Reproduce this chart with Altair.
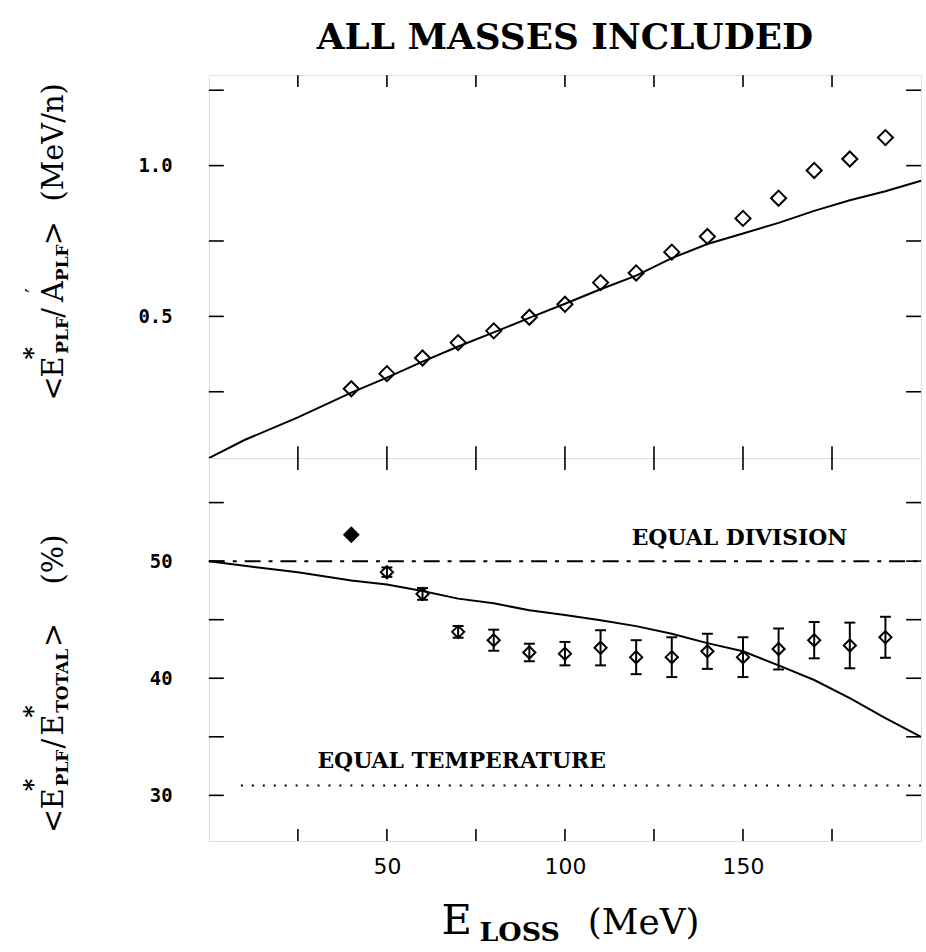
import altair as alt
import pandas as pd

# ---- shared x axis (energy loss, MeV) ----
x_domain = [0, 200]
x_ticks = [25, 50, 75, 100, 125, 150, 175]
x_labels = [50, 100, 150]

# ---- upper panel: excitation energy per nucleon of the PLF ----
e_loss = [40, 50, 60, 70, 80, 90, 100, 110, 120, 130, 140, 150, 160, 170, 180, 190]
exc_per_nucleon = [0.260, 0.310, 0.362, 0.413, 0.452, 0.497, 0.540, 0.612, 0.644, 0.713,
                   0.765, 0.825, 0.892, 0.984, 1.022, 1.093]
model_x = [0, 10, 25, 40, 50, 60, 70, 80, 90, 100, 110, 120, 130, 140, 150, 160, 170, 180, 190, 200]
model_top = [0.03, 0.09, 0.165, 0.247, 0.297, 0.350, 0.400, 0.447, 0.495, 0.542, 0.590, 0.635,
             0.693, 0.740, 0.775, 0.810, 0.850, 0.885, 0.915, 0.950]
top_domain = [0.03, 1.30]
top_ticks = [0.25, 0.5, 0.75, 1.0, 1.25]
top_labels = [0.5, 1.0]

# ---- lower panel: PLF share of the total excitation energy (%) ----
share = [52.25, 49.06, 47.2, 43.96, 43.25, 42.2, 42.1, 42.6, 41.8, 41.8, 42.3, 41.8, 42.5,
         43.25, 42.8, 43.5]
share_err = [0.0, 0.4, 0.5, 0.5, 0.9, 0.75, 1.0, 1.5, 1.45, 1.7, 1.5, 1.7, 1.75, 1.55, 1.95, 1.75]
model_bottom = [50.0, 49.6, 49.05, 48.35, 48.0, 47.45, 46.8, 46.4, 45.8, 45.4, 44.95, 44.45,
                43.8, 43.0, 42.3, 41.1, 39.85, 38.3, 36.6, 35.0]
bottom_domain = [26.1, 58.8]
bottom_ticks = [30, 35, 40, 45, 50, 55]
bottom_labels = [30, 40, 50]
equal_division = 50.0
equal_temperature = 30.85

W, H = 716, 385
SERIF = "DejaVu Serif"
LAB = "DejaVu Sans Mono"

xs = alt.Scale(domain=x_domain, nice=False, zero=False)
ys_top = alt.Scale(domain=top_domain, nice=False, zero=False)
ys_bot = alt.Scale(domain=bottom_domain, nice=False, zero=False)

x_axis_bot = alt.Axis(values=x_labels, format="d", ticks=False, domain=False, grid=False,
                      title=None, labelFont="DejaVu Sans", labelFontSize=22, labelColor="black",
                      labelPadding=16)
y_axis_top = alt.Axis(values=top_labels, format=".1f", ticks=False, domain=False, grid=False,
                      title=None, labelFont=LAB, labelFontSize=19, labelFontWeight="bold",
                      labelColor="black", labelPadding=37)
y_axis_bot = alt.Axis(values=bottom_labels, format="d", ticks=False, domain=False, grid=False,
                      title=None, labelFont=LAB, labelFontSize=19, labelFontWeight="bold",
                      labelColor="black", labelPadding=37)

one = pd.DataFrame({"k": [0]})


def note(txt, px, py, size, origin, font=SERIF, weight="normal", angle=0, align="left"):
    """Free text placed in pixel space of a panel."""
    return alt.Chart(one).mark_text(
        text=txt, fontSize=size, font=font, fontWeight=weight, angle=angle,
        align=align, baseline="alphabetic", color="black"
    ).encode(x=alt.value(px - origin[0]), y=alt.value(py - origin[1]))


def frame_ticks(ys, yvals, xax, yax):
    """Inward ticks on all four sides of a panel."""
    xt = pd.DataFrame({"x": x_ticks})
    yt = pd.DataFrame({"y": yvals})
    X = alt.X("x:Q", scale=xs, axis=xax)
    Y = alt.Y("y:Q", scale=ys, axis=yax)
    bottom = alt.Chart(xt).mark_rule(color="black", strokeWidth=1.6).encode(
        x=X, y=alt.value(H), y2=alt.value(H - 12))
    top = alt.Chart(xt).mark_rule(color="black", strokeWidth=1.6).encode(
        x=X, y=alt.value(0), y2=alt.value(12))
    left = alt.Chart(yt).mark_rule(color="black", strokeWidth=1.6).encode(
        y=Y, x=alt.value(0), x2=alt.value(15))
    right = alt.Chart(yt).mark_rule(color="black", strokeWidth=1.6).encode(
        y=Y, x=alt.value(W), x2=alt.value(W - 15))
    return [bottom, top, left, right]


# ---------------- upper panel ----------------
O_TOP = (209, 74)
pts_top = pd.DataFrame({"x": e_loss, "y": exc_per_nucleon})
mod_top = pd.DataFrame({"x": model_x, "y": model_top})
Xt = alt.X("x:Q", scale=xs, axis=None)
Yt = alt.Y("y:Q", scale=ys_top, axis=y_axis_top)

top_layers = [
    alt.Chart(mod_top).mark_line(color="black", strokeWidth=2).encode(x=Xt, y=Yt),
    alt.Chart(pts_top).mark_point(shape="diamond", size=230, filled=False, color="black",
                                  strokeWidth=2, opacity=1).encode(x=Xt, y=Yt),
]
top_layers += frame_ticks(ys_top, top_ticks, None, y_axis_top)

# y title: <E*_PLF / A'_PLF> (MeV/n), rotated
tx = 62
top_layers += [
    note("<", tx, 401, 29, O_TOP, angle=270),
    note("E", tx, 378, 29, O_TOP, angle=270),
    note("*", 40, 360, 24, O_TOP, angle=270, weight="bold"),
    note("PLF", 67, 354, 17, O_TOP, angle=270, weight="bold"),
    note("/", tx, 318, 29, O_TOP, angle=270),
    note("A", tx, 302, 29, O_TOP, angle=270),
    note("\u2032", 40, 293, 22, O_TOP, angle=270),
    note("PLF", 67, 281, 17, O_TOP, angle=270, weight="bold"),
    note(">", tx, 245, 29, O_TOP, angle=270),
    note("(MeV/n)", tx, 201, 29, O_TOP, angle=270),
]

top = alt.layer(*top_layers).properties(
    width=W, height=H,
    title=alt.TitleParams("ALL MASSES INCLUDED", font=SERIF, fontSize=36, fontWeight="bold",
                          color="black", anchor="middle", offset=18),
)

# ---------------- lower panel ----------------
O_BOT = (209, 459)
pts_bot = pd.DataFrame({"x": e_loss, "y": share, "e": share_err})
pts_bot["lo"] = pts_bot["y"] - pts_bot["e"]
pts_bot["hi"] = pts_bot["y"] + pts_bot["e"]
mod_bot = pd.DataFrame({"x": model_x, "y": model_bottom})
Xb = alt.X("x:Q", scale=xs, axis=x_axis_bot)
Yb = alt.Y("y:Q", scale=ys_bot, axis=y_axis_bot)
with_err = pts_bot[pts_bot["e"] > 0]
first = pts_bot[pts_bot["e"] == 0]

bottom_layers = [
    alt.Chart(pd.DataFrame({"x": [0, 200], "y": [equal_division] * 2})).mark_line(
        color="black", strokeWidth=2, strokeDash=[16, 8, 4, 8]).encode(x=Xb, y=Yb),
    alt.Chart(pd.DataFrame({"x": [9, 200], "y": [equal_temperature] * 2})).mark_line(
        color="black", strokeWidth=2, strokeDash=[2, 9]).encode(x=Xb, y=Yb),
    alt.Chart(mod_bot).mark_line(color="black", strokeWidth=2).encode(x=Xb, y=Yb),
    alt.Chart(with_err).mark_rule(color="black", strokeWidth=2).encode(
        x=Xb, y=alt.Y("lo:Q", scale=ys_bot, axis=y_axis_bot), y2="hi:Q"),
    alt.Chart(with_err).mark_tick(color="black", thickness=2, size=11, orient="horizontal",
                                  opacity=1).encode(
        x=Xb, y=alt.Y("lo:Q", scale=ys_bot, axis=y_axis_bot)),
    alt.Chart(with_err).mark_tick(color="black", thickness=2, size=11, orient="horizontal",
                                  opacity=1).encode(
        x=Xb, y=alt.Y("hi:Q", scale=ys_bot, axis=y_axis_bot)),
    alt.Chart(with_err).mark_point(shape="diamond", size=150, filled=False, color="black",
                                   strokeWidth=2, opacity=1).encode(x=Xb, y=Yb),
    alt.Chart(first).mark_point(shape="diamond", size=220, filled=True, color="black",
                                stroke="black", strokeWidth=1.5, opacity=1).encode(x=Xb, y=Yb),
    alt.Chart(pd.DataFrame({"x": [149], "y": [51.95], "t": ["EQUAL DIVISION"]})).mark_text(
        font=SERIF, fontSize=22, fontWeight="bold", color="black", baseline="middle"
    ).encode(x=Xb, y=Yb, text="t:N"),
    alt.Chart(pd.DataFrame({"x": [71], "y": [32.95], "t": ["EQUAL TEMPERATURE"]})).mark_text(
        font=SERIF, fontSize=22, fontWeight="bold", color="black", baseline="middle"
    ).encode(x=Xb, y=Yb, text="t:N"),
]
bottom_layers += frame_ticks(ys_bot, bottom_ticks, x_axis_bot, y_axis_bot)

# y title: <E*_PLF / E*_TOTAL> (%), rotated
bottom_layers += [
    note("<", tx, 836, 29, O_BOT, angle=270),
    note("E", tx, 812, 29, O_BOT, angle=270),
    note("*", 40, 794, 24, O_BOT, angle=270, weight="bold"),
    note("PLF", 67, 789, 17, O_BOT, angle=270, weight="bold"),
    note("/", tx, 751, 29, O_BOT, angle=270),
    note("E", tx, 738, 29, O_BOT, angle=270),
    note("*", 40, 720, 24, O_BOT, angle=270, weight="bold"),
    note("TOTAL", 67, 715, 17, O_BOT, angle=270, weight="bold"),
    note(">", tx, 649, 29, O_BOT, angle=270),
    note("(%)", tx, 586, 29, O_BOT, angle=270),
    # x title: E_LOSS (MeV)
    note("E", 443, 937, 42, O_BOT),
    note("LOSS", 481, 945, 27, O_BOT, weight="bold"),
    note("(MeV)", 590, 937, 36, O_BOT),
]

bottom = alt.layer(*bottom_layers).properties(width=W, height=H)

chart = alt.vconcat(top, bottom, spacing=0, bounds="flush").properties(
    padding={"left": 21, "top": 16, "right": 0, "bottom": 0}
).configure_view(stroke="black", strokeWidth=2).configure(background="white")

chart.save("out.html", embed_options={"renderer": "svg", "actions": False})
